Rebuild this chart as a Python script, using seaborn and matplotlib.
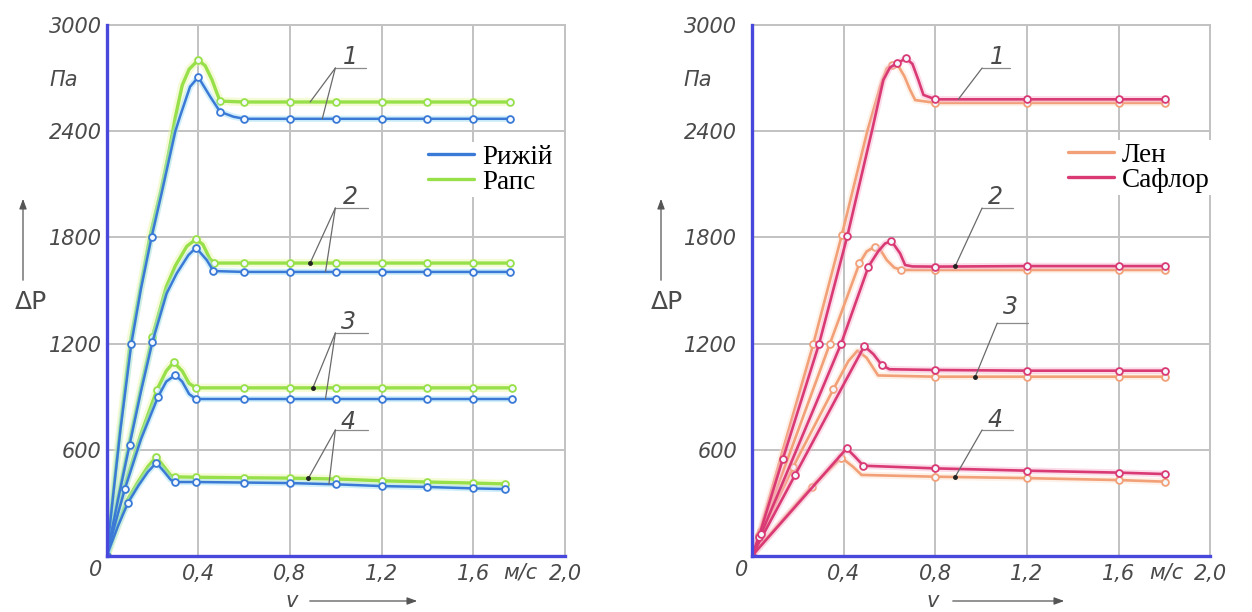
import numpy as np
import pandas as pd
import matplotlib
matplotlib.use("Agg")
import matplotlib.pyplot as plt
from matplotlib.lines import Line2D
import seaborn as sns

sns.set_theme(style="white")
plt.rcParams['font.family'] = ['DejaVu Sans']

# ---------------- Left panel: Рижій (blue) / Рапс (green), curves 1..4 ----------------
ryzh1_v = [0, 0.03, 0.06, 0.108, 0.15, 0.196, 0.24, 0.27, 0.30, 0.32, 0.364, 0.40, 0.452, 0.495, 0.553, 0.6, 0.8, 1.0, 1.2, 1.4, 1.6, 1.76]
ryzh1_p = [0, 360, 710, 1200, 1510, 1800, 2049, 2225, 2400, 2482, 2651, 2706, 2595, 2510, 2482, 2470, 2470, 2470, 2470, 2470, 2470, 2470]
ryzh1_m = [1, 0, 0, 1, 0, 1, 0, 0, 0, 0, 0, 1, 0, 1, 0, 1, 1, 1, 1, 1, 1, 1]

ryzh2_v = [0, 0.05, 0.10, 0.15, 0.20, 0.262, 0.306, 0.357, 0.39, 0.437, 0.466, 0.6, 0.8, 1.0, 1.2, 1.4, 1.6, 1.76]
ryzh2_p = [0, 320, 627, 930, 1210, 1484, 1597, 1700, 1742, 1672, 1610, 1605, 1605, 1605, 1605, 1605, 1605, 1605]
ryzh2_m = [0, 0, 1, 0, 1, 0, 0, 0, 1, 0, 1, 1, 1, 1, 1, 1, 1, 1]

ryzh3_v = [0, 0.04, 0.08, 0.15, 0.224, 0.26, 0.30, 0.33, 0.36, 0.39, 0.6, 0.8, 1.0, 1.2, 1.4, 1.6, 1.77]
ryzh3_p = [0, 195, 380, 660, 898, 985, 1023, 985, 915, 887, 887, 887, 887, 887, 887, 887, 887]
ryzh3_m = [0, 0, 1, 0, 1, 0, 1, 0, 0, 1, 1, 1, 1, 1, 1, 1, 1]

ryzh4_v = [0, 0.05, 0.093, 0.14, 0.18, 0.217, 0.25, 0.28, 0.30, 0.39, 0.6, 0.8, 1.0, 1.2, 1.4, 1.6, 1.74]
ryzh4_p = [0, 170, 300, 400, 475, 527, 478, 430, 418, 418, 415, 412, 405, 395, 390, 382, 378]
ryzh4_m = [0, 0, 1, 0, 0, 1, 0, 0, 1, 1, 1, 1, 1, 1, 1, 1, 1]

raps1_v = [0, 0.03, 0.06, 0.105, 0.15, 0.19, 0.24, 0.27, 0.30, 0.33, 0.36, 0.40, 0.43, 0.46, 0.48, 0.495, 0.6, 0.8, 1.0, 1.2, 1.4, 1.6, 1.76]
raps1_p = [0, 370, 730, 1220, 1530, 1810, 2080, 2270, 2480, 2660, 2750, 2802, 2770, 2690, 2620, 2570, 2565, 2565, 2565, 2565, 2565, 2565, 2565]
raps1_m = [0, 0, 0, 0, 0, 0, 0, 0, 0, 0, 0, 1, 0, 0, 0, 1, 1, 1, 1, 1, 1, 1, 1]

raps2_v = [0, 0.05, 0.10, 0.15, 0.20, 0.26, 0.30, 0.35, 0.39, 0.42, 0.45, 0.47, 0.6, 0.8, 1.0, 1.2, 1.4, 1.6, 1.76]
raps2_p = [0, 330, 645, 950, 1240, 1520, 1640, 1750, 1790, 1760, 1680, 1655, 1655, 1655, 1655, 1655, 1655, 1655, 1655]
raps2_m = [0, 0, 0, 0, 1, 0, 0, 0, 1, 0, 0, 1, 1, 1, 1, 1, 1, 1, 1]

raps3_v = [0, 0.04, 0.08, 0.15, 0.22, 0.26, 0.293, 0.33, 0.36, 0.39, 0.6, 0.8, 1.0, 1.2, 1.4, 1.6, 1.77]
raps3_p = [0, 205, 400, 690, 940, 1045, 1095, 1045, 975, 950, 950, 950, 950, 950, 950, 950, 950]
raps3_m = [0, 0, 0, 0, 1, 0, 1, 0, 0, 1, 1, 1, 1, 1, 1, 1, 1]

raps4_v = [0, 0.05, 0.09, 0.14, 0.18, 0.217, 0.25, 0.28, 0.30, 0.39, 0.6, 0.8, 1.0, 1.2, 1.4, 1.6, 1.74]
raps4_p = [0, 180, 315, 425, 505, 560, 505, 455, 447, 445, 442, 440, 435, 425, 418, 412, 407]
raps4_m = [1, 0, 0, 0, 0, 1, 0, 0, 1, 1, 1, 1, 1, 1, 1, 1, 1]

# ---------------- Right panel: Лен (orange) / Сафлор (crimson), curves 1..4 ----------------
len1_v = [0, 0.03, 0.135, 0.268, 0.392, 0.503, 0.559, 0.588, 0.61, 0.64, 0.665, 0.69, 0.712, 0.8, 1.2, 1.6, 1.8]
len1_p = [0, 120, 600, 1200, 1814, 2400, 2651, 2755, 2774, 2765, 2710, 2633, 2576, 2560, 2560, 2560, 2560]
len1_m = [0, 1, 0, 1, 1, 0, 0, 0, 1, 0, 0, 0, 0, 1, 1, 1, 1]

safl1_v = [0, 0.03, 0.135, 0.293, 0.416, 0.523, 0.573, 0.602, 0.632, 0.672, 0.70, 0.726, 0.748, 0.8, 1.2, 1.6, 1.8]
safl1_p = [0, 110, 550, 1200, 1808, 2400, 2689, 2760, 2783, 2812, 2780, 2689, 2605, 2580, 2580, 2580, 2580]
safl1_m = [0, 1, 1, 1, 1, 0, 0, 0, 1, 1, 0, 0, 0, 1, 1, 1, 1]

len2_v = [0, 0.04, 0.34, 0.469, 0.50, 0.535, 0.56, 0.588, 0.62, 0.649, 0.8, 1.2, 1.6, 1.8]
len2_p = [0, 140, 1200, 1654, 1720, 1748, 1730, 1672, 1630, 1616, 1616, 1616, 1616, 1616]
len2_m = [0, 1, 1, 1, 0, 1, 0, 0, 0, 1, 1, 1, 1, 1]

safl2_v = [0, 0.04, 0.389, 0.508, 0.55, 0.58, 0.608, 0.646, 0.668, 0.70, 0.8, 1.2, 1.6, 1.8]
safl2_p = [0, 125, 1200, 1635, 1720, 1765, 1780, 1710, 1644, 1636, 1635, 1638, 1638, 1638]
safl2_m = [0, 1, 1, 1, 0, 0, 1, 0, 0, 0, 1, 1, 1, 1]

len3_v = [0, 0.03, 0.18, 0.355, 0.42, 0.46, 0.50, 0.55, 0.8, 1.2, 1.6, 1.8]
len3_p = [0, 90, 505, 942, 1100, 1160, 1120, 1020, 1013, 1013, 1013, 1013]
len3_m = [0, 0, 1, 1, 0, 0, 0, 0, 1, 1, 1, 1]

safl3_v = [0, 0.03, 0.188, 0.40, 0.49, 0.53, 0.566, 0.60, 0.8, 1.2, 1.6, 1.8]
safl3_p = [0, 75, 458, 970, 1186, 1140, 1079, 1055, 1051, 1047, 1047, 1047]
safl3_m = [0, 0, 1, 0, 1, 0, 1, 0, 1, 1, 1, 1]

len4_v = [0, 0.03, 0.26, 0.39, 0.44, 0.478, 0.8, 1.2, 1.6, 1.8]
len4_p = [0, 50, 392, 556, 505, 458, 448, 440, 429, 420]
len4_m = [0, 0, 1, 1, 0, 0, 1, 1, 1, 1]

safl4_v = [0, 0.03, 0.413, 0.45, 0.486, 0.8, 1.2, 1.6, 1.8]
safl4_p = [0, 45, 608, 560, 510, 495, 482, 471, 463]
safl4_m = [1, 0, 1, 0, 1, 1, 1, 1, 1]

x_ticks = [0, 0.4, 0.8, 1.2, 1.6, 2.0]
x_labels = ["", "0,4", "0,8", "1,2", "1,6", "2,0"]
y_ticks = [0, 600, 1200, 1800, 2400, 3000]
y_labels = ["", "600", "1200", "1800", "2400", "3000"]

# colour pairs: (line, halo)
BLUE = ("#3a7ad6", "#9adcf4")
GREEN = ("#98e04a", "#eaf8a8")
ORANGE = ("#f2a077", "#fde0cc")
CRIMSON = ("#d93a74", "#f7b3cf")

W, H = 1252, 612
fig = plt.figure(figsize=(W / 100, H / 100), dpi=100)
axL = fig.add_axes([106.6 / W, 1 - 556 / H, 458.4 / W, 531 / H])
axR = fig.add_axes([752.0 / W, 1 - 556 / H, 458.4 / W, 531 / H])

GOST = dict(style="italic", color="#4a4a4a")


def draw_curve(ax, v, p, m, colors, lw, z):
    line_c, halo_c = colors
    df = pd.DataFrame({"v": v, "dp": p, "mark": np.array(m, bool)})
    sns.lineplot(data=df, x="v", y="dp", ax=ax, sort=False, estimator=None,
                 color=halo_c, lw=lw * 2.5, alpha=0.45, zorder=z)
    sns.lineplot(data=df, x="v", y="dp", ax=ax, sort=False, estimator=None,
                 color=line_c, lw=lw, zorder=z + 0.1)
    sns.scatterplot(data=df[df["mark"]], x="v", y="dp", ax=ax, s=24, marker="o",
                    facecolor="#f4f8ff", edgecolor=line_c, linewidth=1.3, zorder=z + 0.2)


left_sets = [
    (raps1_v, raps1_p, raps1_m), (raps2_v, raps2_p, raps2_m),
    (raps3_v, raps3_p, raps3_m), (raps4_v, raps4_p, raps4_m),
]
left_sets_b = [
    (ryzh1_v, ryzh1_p, ryzh1_m), (ryzh2_v, ryzh2_p, ryzh2_m),
    (ryzh3_v, ryzh3_p, ryzh3_m), (ryzh4_v, ryzh4_p, ryzh4_m),
]
for v, p, m in left_sets:
    draw_curve(axL, v, p, m, GREEN, 2.4, 3)
for v, p, m in left_sets_b:
    draw_curve(axL, v, p, m, BLUE, 1.8, 4)

right_sets_l = [
    (len1_v, len1_p, len1_m), (len2_v, len2_p, len2_m),
    (len3_v, len3_p, len3_m), (len4_v, len4_p, len4_m),
]
right_sets_s = [
    (safl1_v, safl1_p, safl1_m), (safl2_v, safl2_p, safl2_m),
    (safl3_v, safl3_p, safl3_m), (safl4_v, safl4_p, safl4_m),
]
for v, p, m in right_sets_l:
    draw_curve(axR, v, p, m, ORANGE, 1.9, 3)
for v, p, m in right_sets_s:
    draw_curve(axR, v, p, m, CRIMSON, 1.9, 4)

# axes styling (drafting-sheet look)
for ax, ypad in ((axL, 3.5), (axR, 10.5)):
    ax.set_xlim(0, 2.0)
    ax.set_ylim(0, 3000)
    ax.set_xticks(x_ticks)
    ax.set_xticklabels(x_labels)
    ax.set_yticks(y_ticks)
    ax.set_yticklabels(y_labels)
    ax.set_xlabel("")
    ax.set_ylabel("")
    ax.grid(True, color="#c2c2c2", lw=1.4, zorder=0)
    ax.set_axisbelow(True)
    ax.tick_params(axis="both", length=0, labelsize=15, labelcolor="#4a4a4a")
    ax.tick_params(axis="y", pad=ypad)
    ax.tick_params(axis="x", pad=6)
    for lbl in ax.get_xticklabels() + ax.get_yticklabels():
        lbl.set_style("italic")
    for s in ("top", "right"):
        ax.spines[s].set_color("#c2c2c2")
        ax.spines[s].set_linewidth(1.4)
    for s in ("left", "bottom"):
        ax.spines[s].set_color("#4848dc")
        ax.spines[s].set_linewidth(2.4)
        ax.spines[s].set_zorder(6)


def fx(px):
    return px / W


def fy(py):
    return 1 - py / H


# origin "0", unit labels, axis names with arrows
for x0, xm, xpa, xv, xa0, xa1, xdp, xarr in (
        (96, 520, 64, 292, 307, 420, 31, 23),
        (742, 1166, 698, 933, 950, 1067, 667, 661)):
    fig.text(fx(x0), fy(570), "0", ha="center", va="center", fontsize=15, **GOST)
    fig.text(fx(xm), fy(573), "м/с", ha="center", va="center", fontsize=15, **GOST)
    fig.text(fx(xpa), fy(80), "Па", ha="center", va="center", fontsize=15, **GOST)
    fig.text(fx(xdp), fy(302), "ΔP", ha="center", va="center", fontsize=18, color="#4a4a4a")
    fig.text(fx(xv), fy(601), "v", ha="center", va="center", fontsize=15, **GOST)
    fig.add_artist(matplotlib.patches.FancyArrowPatch(
        (fx(xarr), fy(283)), (fx(xarr), fy(196)), transform=fig.transFigure,
        arrowstyle="-|>,head_length=6,head_width=2.2", color="#555555", lw=0.9))
    fig.add_artist(matplotlib.patches.FancyArrowPatch(
        (fx(xa0), fy(601)), (fx(xa1), fy(601)), transform=fig.transFigure,
        arrowstyle="-|>,head_length=6,head_width=2.2", color="#555555", lw=0.9))


# numbered call-outs with leader lines ending on the curves
def callout(ax, num, tx, ty, ux0, ux1, uy, targets):
    ax.text(tx, ty, num, ha="center", va="center", fontsize=17, zorder=8, **GOST)
    ax.plot([ux0, ux1], [uy, uy], color="#8a8a8a", lw=0.9, zorder=8)
    for (v, p), at, dot in targets:
        ty_ = float(np.interp(at, v, p))
        ax.plot([ux0, at], [uy, ty_], color="#6a6a6a", lw=0.9, zorder=8)
        if dot:
            ax.plot([at], [ty_], marker="o", ms=2.5, color="#222222", zorder=9)


callout(axL, "1", 1.063, 2819, 0.998, 1.13, 2757,
        [((raps1_v, raps1_p), 0.888, False), ((ryzh1_v, ryzh1_p), 0.941, False)])
callout(axL, "2", 1.063, 2028, 0.998, 1.14, 1966,
        [((raps2_v, raps2_p), 0.888, True), ((ryzh2_v, ryzh2_p), 0.955, False)])
callout(axL, "3", 1.055, 1322, 0.998, 1.14, 1260,
        [((raps3_v, raps3_p), 0.90, True), ((ryzh3_v, ryzh3_p), 0.955, False)])
callout(axL, "4", 1.055, 757, 0.998, 1.14, 712,
        [((raps4_v, raps4_p), 0.88, True), ((ryzh4_v, ryzh4_p), 0.97, False)])

callout(axR, "1", 1.07, 2819, 1.004, 1.127, 2757,
        [((safl1_v, safl1_p), 0.90, False)])
callout(axR, "2", 1.061, 2028, 1.004, 1.14, 1966,
        [((safl2_v, safl2_p), 0.886, True)])
callout(axR, "3", 1.127, 1407, 1.07, 1.205, 1316,
        [((len3_v, len3_p), 0.974, True)])
callout(axR, "4", 1.061, 768, 1.004, 1.14, 712,
        [((len4_v, len4_p), 0.886, True)])

# legends
leg_font = {"family": ["Liberation Serif", "DejaVu Serif"], "size": 19.5}
for ax, names, cols, x_anchor, y_anchor in (
        (axL, ["Рижій", "Рапс"], [BLUE[0], GREEN[0]], 425, 142),
        (axR, ["Лен", "Сафлор"], [ORANGE[0], CRIMSON[0]], 1065, 140)):
    handles = [Line2D([0], [0], color=c, lw=2.4) for c in cols]
    leg = ax.legend(handles, names, loc="upper left",
                    bbox_to_anchor=(fx(x_anchor), fy(y_anchor)), bbox_transform=fig.transFigure,
                    frameon=True, facecolor="white", edgecolor="none", framealpha=1,
                    fancybox=False, borderpad=0.1, borderaxespad=0, handlelength=1.7,
                    handletextpad=0.3, labelspacing=0.0, prop=leg_font)
    leg.set_zorder(10)
    for t in leg.get_texts():
        t.set_color("black")

fig.savefig("out.png", dpi=100, facecolor="white")
